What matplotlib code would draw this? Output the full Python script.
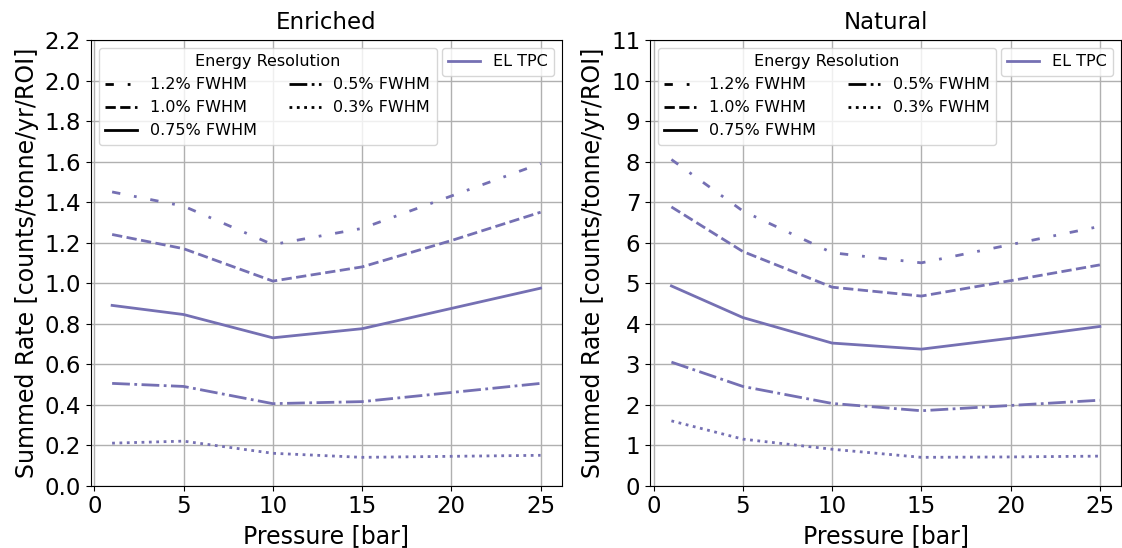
import matplotlib
matplotlib.use("Agg")
import matplotlib.pyplot as plt
from matplotlib.lines import Line2D
import numpy as np

pressures = [1, 5, 10, 15, 20, 25]
resolutions = ["1.2% FWHM", "1.0% FWHM", "0.75% FWHM", "0.5% FWHM", "0.3% FWHM"]

enriched_12 = [1.45, 1.38, 1.19, 1.27, 1.43, 1.59]
enriched_10 = [1.24, 1.17, 1.01, 1.08, 1.21, 1.35]
enriched_075 = [0.89, 0.845, 0.73, 0.775, 0.875, 0.975]
enriched_05 = [0.505, 0.49, 0.405, 0.415, 0.46, 0.505]
enriched_03 = [0.21, 0.22, 0.16, 0.14, 0.145, 0.15]

natural_12 = [8.05, 6.78, 5.75, 5.5, 5.95, 6.4]
natural_10 = [6.88, 5.78, 4.9, 4.68, 5.06, 5.45]
natural_075 = [4.93, 4.15, 3.52, 3.37, 3.64, 3.93]
natural_05 = [3.05, 2.45, 2.03, 1.85, 1.98, 2.11]
natural_03 = [1.6, 1.15, 0.9, 0.7, 0.71, 0.73]

linestyles = [(0, (3, 5, 1, 5)), "--", "-", "-.", ":"]
color = "#7570b3"

panels = [
    ("Enriched", [enriched_12, enriched_10, enriched_075, enriched_05, enriched_03], 2.2, 0.2),
    ("Natural", [natural_12, natural_10, natural_075, natural_05, natural_03], 11, 1),
]

W, H = 1122, 548
fig = plt.figure(figsize=(W / 100, H / 100), dpi=100)
positions = [[90.7 / W, (H - 485.7) / H, 471.3 / W, 445.7 / H],
             [650 / W, (H - 485.7) / H, 471.3 / W, 445.7 / H]]

for i, (title, series, ymax, ystep) in enumerate(panels):
    ax = fig.add_axes(positions[i])
    for vals, ls in zip(series, linestyles):
        ax.plot(pressures, vals, color=color, linestyle=ls, lw=2)
    ax.set_ylim(0, ymax)
    ticks = np.arange(0, ymax + ystep / 2, ystep)
    ax.set_yticks(ticks)
    if ystep < 1:
        ax.set_yticklabels([f"{v:.1f}" for v in ticks])
    else:
        ax.set_yticklabels([f"{v:.0f}" for v in ticks])
    ax.set_xticks([0, 5, 10, 15, 20, 25])
    ax.grid(True, color="#b0b0b0", lw=1)
    ax.set_axisbelow(True)
    ax.tick_params(labelsize=16.5)
    ax.set_xlabel("Pressure [bar]", fontsize=17)
    ax.set_title(title, fontsize=16.5, pad=8)
    ax.set_ylabel("Summed Rate [counts/tonne/yr/ROI]", fontsize=17)
    handles = [Line2D([], [], color="black", linestyle=ls, lw=2) for ls in linestyles]
    leg1 = ax.legend(handles, resolutions, title="Energy Resolution", ncol=2,
                     loc="upper left", fontsize=11.5, title_fontsize=11.5)
    ax.add_artist(leg1)
    h2 = [Line2D([], [], color=color, lw=2)]
    ax.legend(h2, ["EL TPC"], loc="upper right", fontsize=11.5)

fig.savefig("out.png", dpi=100)
